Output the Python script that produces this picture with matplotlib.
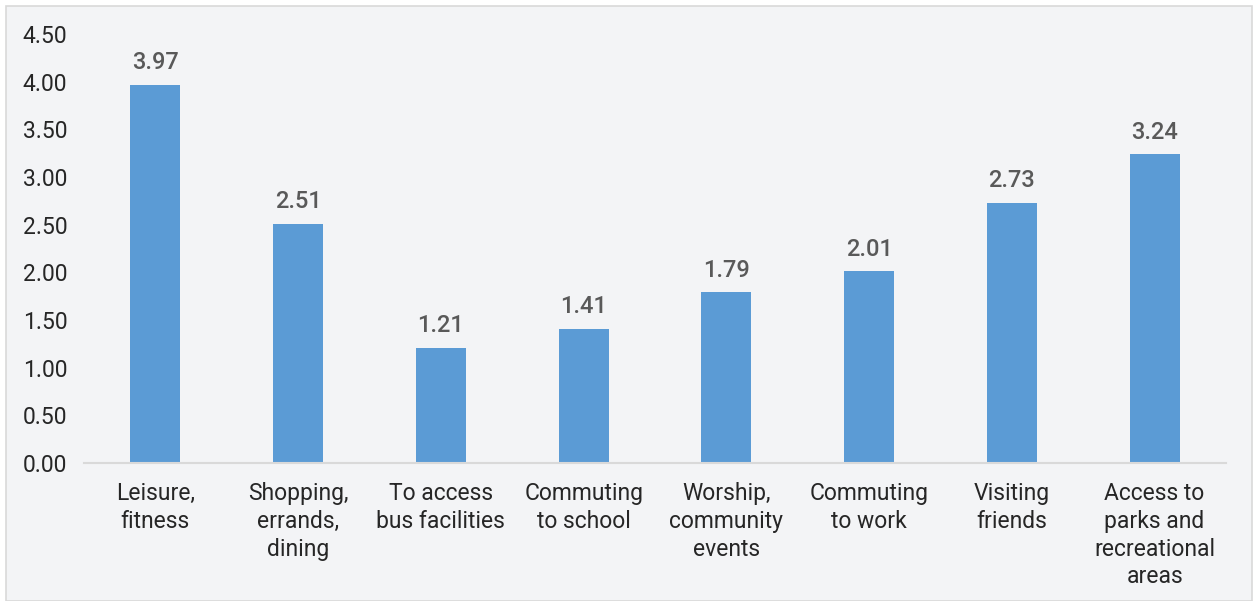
import matplotlib.pyplot as plt
import matplotlib.patches as mpatches
import numpy as np

# chart data
categories = ["Leisure,\nfitness", "Shopping,\nerrands,\ndining", "To access\nbus facilities",
              "Commuting\nto school", "Worship,\ncommunity\nevents", "Commuting\nto work",
              "Visiting\nfriends", "Access to\nparks and\nrecreational\nareas"]
values = [3.97, 2.51, 1.21, 1.41, 1.79, 2.01, 2.73, 3.24]
yticks = [0.0, 0.5, 1.0, 1.5, 2.0, 2.5, 3.0, 3.5, 4.0, 4.5]

plt.rcParams['font.family'] = ['Roboto', 'DejaVu Sans']

bg = '#F3F4F6'
fig = plt.figure(figsize=(12.56, 6.01), dpi=100)
fig.patch.set_facecolor('white')
# light panel with a thin border, kept behind the axes
fig.patches.append(mpatches.Rectangle((6/1256, 0), 1246/1256, 595/601, transform=fig.transFigure,
                                      facecolor=bg, edgecolor='#D9D9D9', linewidth=1.2, zorder=-10))

ax = fig.add_axes([84/1256, 1 - 463/601, 1142/1256, (463-34)/601])
ax.set_facecolor('none')

x = np.arange(len(categories))
bars = ax.bar(x, values, width=0.35, color='#5B9BD5', zorder=2)

for xi, v in zip(x, values):
    ax.text(xi, v + 0.11, f"{v:.2f}", ha='center', va='bottom', fontsize=17,
            color='#595959', fontweight='medium')

ax.set_xlim(-0.5, len(categories) - 0.5)
ax.set_ylim(0, 4.5)
ax.set_yticks(yticks)
ax.set_yticklabels([f"{t:.2f}" for t in yticks])
ax.set_xticks(x)
ax.set_xticklabels(categories, linespacing=1.26)

for s in ['top', 'right', 'left']:
    ax.spines[s].set_visible(False)
ax.spines['bottom'].set_color('#D9D9D9')
ax.spines['bottom'].set_linewidth(1.5)

ax.tick_params(axis='both', length=0, labelsize=16.5, colors='#262626')
ax.tick_params(axis='y', pad=12)
ax.tick_params(axis='x', pad=14)

fig.savefig('out.png', dpi=100, facecolor=fig.get_facecolor())
